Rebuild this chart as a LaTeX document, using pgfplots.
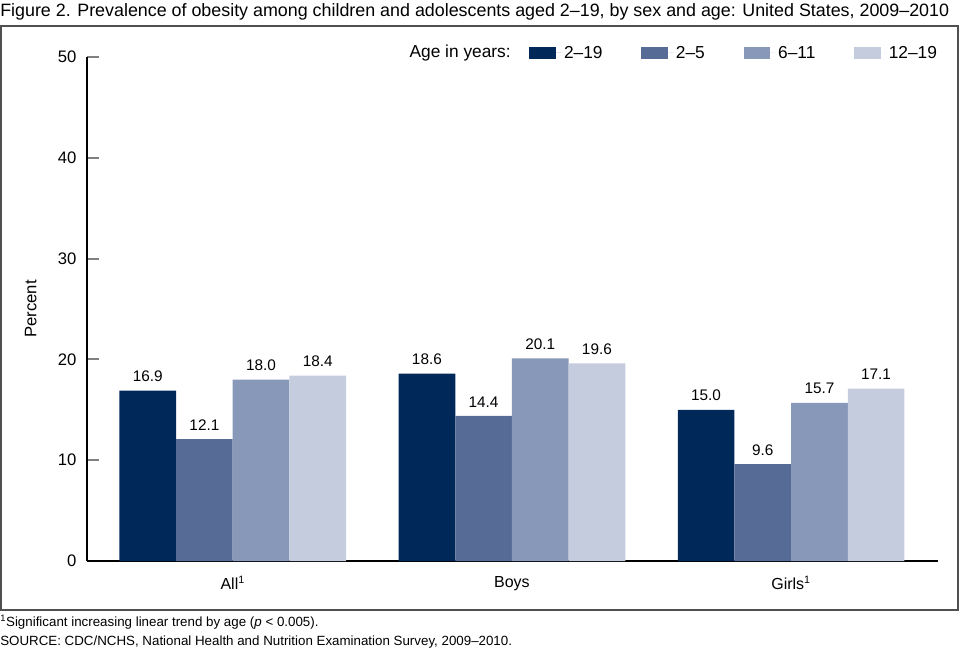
\documentclass[border=0pt]{standalone}
\usepackage{fontspec}
\setmainfont{Liberation Sans}
\usepackage{pgfplots}
\pgfplotsset{compat=1.18}
\definecolor{cA}{RGB}{0,41,90}
\definecolor{cB}{RGB}{86,108,150}
\definecolor{cC}{RGB}{136,152,184}
\definecolor{cD}{RGB}{196,204,222}
\definecolor{frame}{RGB}{80,80,80}
\newcommand{\lbl}{\fontsize{11.5}{13}\selectfont}
\newcommand{\leg}{\fontsize{13}{15}\selectfont}
\begin{document}
\begin{tikzpicture}[x=0.75pt,y=-0.75pt]
% page size in pixels of the reference
\path (0,0) rectangle (960,654);
\draw[line width=1.2pt, frame] (1,26) rectangle (958,610);
\node[anchor=west, inner sep=0, font=\fontsize{13.4}{15}\selectfont] at (0,12)
  {Figure 2. Prevalence of obesity among children and adolescents aged 2–19, by sex and age: United States, 2009–2010};
\node[anchor=east, inner sep=0, font=\leg] at (511,53) {Age in years:};
\node[anchor=west, inner sep=0, font=\fontsize{10}{12}\selectfont] at (0,622)
  {\textsuperscript{1}Significant increasing linear trend by age (\textit{p} < 0.005).};
\node[anchor=west, inner sep=0, font=\fontsize{10}{12}\selectfont] at (0,642)
  {SOURCE: CDC/NCHS, National Health and Nutrition Examination Survey, 2009–2010.};
\begin{axis}[
    at={(65.25pt,-420.75pt)}, anchor=south west,
    scale only axis, width=638pt, height=378pt,
    /pgf/number format/assume math mode=true,
    ymin=0, ymax=50, ytick={0,10,...,50},
    xmin=-0.522, xmax=2.525,
    xtick={0,1,2},
    xticklabels={All\textsuperscript{1},Boys,Girls\textsuperscript{1}},
    axis lines*=left,
    axis line style={line width=1.5pt},
    tick align=inside, major tick length=9pt,
    ytick style={line width=1.5pt},
    xtick style={draw=none},
    yticklabel style={font=\fontsize{12.5}{14}\selectfont, xshift=-4.5pt},
    xticklabel style={font=\fontsize{12}{14}\selectfont, yshift=1pt},
    ylabel={Percent}, ylabel style={font=\fontsize{12.5}{14}\selectfont, yshift=9pt},
    ybar=0pt, bar width=42.5pt,
    nodes near coords={\pgfmathprintnumber[fixed,fixed zerofill,precision=1]{\pgfplotspointmeta}},
    every node near coord/.append style={font=\lbl, yshift=3pt},
    legend columns=4,
    legend style={draw=none, fill=none, font=\leg, at={(0.515,1.008)}, anchor=west,
      /tikz/every even column/.append style={column sep=27pt}},
    legend image code/.code={\fill[#1] (0pt,-4.5pt) rectangle (20pt,4.5pt); \path (0pt,0pt) -- (24pt,0pt);},
]
\addplot[fill=cA, draw=none] coordinates {(0,16.9) (1,18.6) (2,15.0)};
\addlegendentry{2–19}
\addplot[fill=cB, draw=none] coordinates {(0,12.1) (1,14.4) (2,9.6)};
\addlegendentry{2–5}
\addplot[fill=cC, draw=none] coordinates {(0,18.0) (1,20.1) (2,15.7)};
\addlegendentry{6–11}
\addplot[fill=cD, draw=none] coordinates {(0,18.4) (1,19.6) (2,17.1)};
\addlegendentry{12–19}
\end{axis}
\end{tikzpicture}
\end{document}
